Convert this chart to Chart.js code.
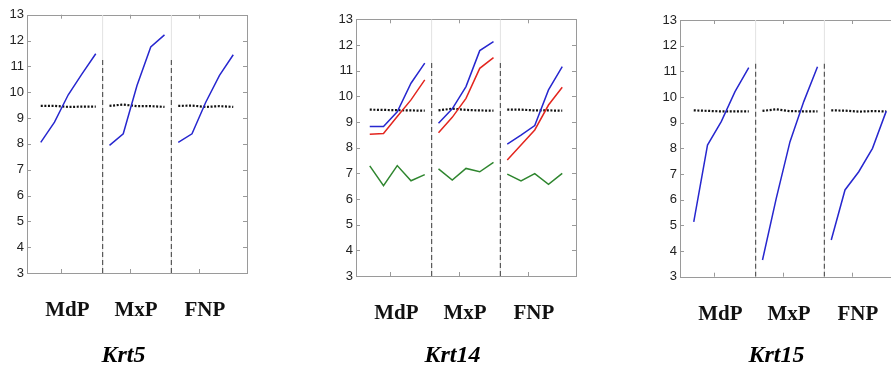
<!DOCTYPE html>
<html>
<head>
<meta charset="utf-8">
<script src="https://cdn.jsdelivr.net/npm/chart.js@4.4.1/dist/chart.umd.min.js"></script>
<style>
  html, body { margin: 0; padding: 0; background: #fff; width: 891px; height: 368px; overflow: hidden; position: relative; }
  .panel { position: absolute; top: 0; }
</style>
</head>
<body>
<canvas id="krt5" class="panel" width="300" height="368" style="left:0px"></canvas>
<canvas id="krt14" class="panel" width="300" height="368" style="left:329px"></canvas>
<canvas id="krt15" class="panel" width="300" height="368" style="left:653px"></canvas>
<script>
// Groups on the x axis, 5 stages in each
const groups = ['MdP', 'MxP', 'FNP'];
const stages = [1, 2, 3, 4, 5];
const yMin = 3;
const yMax = 13;
const dividerTop = 11.35;

// Expression values, MdP stages 1-5, then MxP, then FNP
const krt5Blue  = [8.06, 8.84, 9.90, 10.71, 11.49,   7.94, 8.39, 10.26, 11.75, 12.22,   8.06, 8.39, 9.61, 10.65, 11.45];
const krt5Ref   = [9.47, 9.47, 9.43, 9.44, 9.44,     9.47, 9.52, 9.46, 9.46, 9.43,      9.47, 9.48, 9.43, 9.46, 9.43];

const krt14Blue  = [8.82, 8.82, 9.40, 10.51, 11.29,  8.95, 9.51, 10.38, 11.78, 12.13,   8.14, 8.49, 8.86, 10.25, 11.16];
const krt14Red   = [8.52, 8.55, 9.21, 9.86, 10.64,   8.58, 9.18, 9.92, 11.09, 11.51,    7.52, 8.10, 8.69, 9.66, 10.35];
const krt14Green = [7.29, 6.52, 7.30, 6.71, 6.95,    7.17, 6.74, 7.19, 7.06, 7.43,      6.97, 6.70, 6.99, 6.57, 7.00];
const krt14Ref   = [9.48, 9.47, 9.46, 9.45, 9.44,    9.45, 9.52, 9.47, 9.45, 9.44,      9.48, 9.48, 9.45, 9.45, 9.44];

const krt15Blue = [5.14, 8.13, 9.04, 10.21, 11.14,   3.65, 6.05, 8.26, 9.82, 11.18,     4.43, 6.38, 7.09, 8.00, 9.45];
const krt15Ref  = [9.48, 9.46, 9.44, 9.44, 9.44,     9.46, 9.52, 9.45, 9.44, 9.44,      9.48, 9.47, 9.43, 9.45, 9.44];

const BLUE = '#2727cf';
const RED = '#e3261f';
const GREEN = '#2f862f';

// turn a flat list into {x,y} points, with a gap between groups
function toPoints(values) {
    const pts = [];
    groups.forEach((g, gi) => {
        stages.forEach((s, si) => {
            pts.push({ x: gi + 1 + (s - 2.5) * 0.2, y: values[gi * stages.length + si] });
        });
        pts.push({ x: gi + 1.55, y: null });
    });
    return pts;
}

function seriesLine(values, color) {
    return { data: toPoints(values), borderColor: color, borderWidth: 1.5, pointRadius: 0, tension: 0, spanGaps: false };
}

function refLine(values) {
    return { data: toPoints(values), borderColor: '#111', borderWidth: 2.2, borderDash: [2, 1.6], pointRadius: 0, tension: 0, spanGaps: false };
}

// group separators: faint full-height line with a dashed one over it
function dividerLines() {
    const faint = [], dashed = [];
    [1.6, 2.6].forEach(x => {
        faint.push({ x: x, y: yMin }, { x: x, y: yMax }, { x: x, y: null });
        dashed.push({ x: x, y: yMin }, { x: x, y: dividerTop }, { x: x, y: null });
    });
    return [
        { data: dashed, borderColor: '#5a5a5a', borderWidth: 1.2, borderDash: [5, 3], pointRadius: 0, spanGaps: false },
        { data: faint, borderColor: '#e2e2e2', borderWidth: 1, pointRadius: 0, spanGaps: false }
    ];
}

// box round the plot with small inward ticks
const framePlugin = {
    id: 'frame',
    beforeDatasetsDraw(chart) {
        const { ctx, chartArea: a, scales: { x, y } } = chart;
        ctx.save();
        ctx.strokeStyle = '#9a9a9a';
        ctx.lineWidth = 1;
        ctx.strokeRect(Math.round(a.left) + 0.5, Math.round(a.top) + 0.5, Math.round(a.width), Math.round(a.height));
        ctx.beginPath();
        for (let v = yMin; v <= yMax; v++) {
            const py = Math.round(y.getPixelForValue(v)) + 0.5;
            ctx.moveTo(a.left, py); ctx.lineTo(a.left + 4, py);
            ctx.moveTo(a.right, py); ctx.lineTo(a.right - 4, py);
        }
        groups.forEach((g, i) => {
            const px = Math.round(x.getPixelForValue(i + 1)) + 0.5;
            ctx.moveTo(px, a.top); ctx.lineTo(px, a.top + 4);
            ctx.moveTo(px, a.bottom); ctx.lineTo(px, a.bottom - 4);
        });
        ctx.stroke();
        ctx.restore();
    }
};

function makePanel(id, title, top, bottom, datasets) {
    return new Chart(document.getElementById(id), {
        type: 'line',
        // first dataset is drawn on top, so the separators go last
        data: { datasets: datasets.concat(dividerLines()) },
        plugins: [framePlugin],
        options: {
            responsive: false,
            animation: false,
            devicePixelRatio: 1,
            layout: { padding: { top: top, right: 53, bottom: 0, left: 0 } },
            plugins: {
                legend: { display: false },
                tooltip: { enabled: false },
                title: {
                    display: true,
                    text: title,
                    position: 'bottom',
                    color: '#000',
                    font: { family: '"Liberation Serif", "Times New Roman", serif', size: 24, weight: 'bold', style: 'italic', lineHeight: 1.0 },
                    padding: { top: 0, bottom: 0 }
                }
            },
            scales: {
                x: {
                    type: 'linear',
                    min: 0.5,
                    max: 3.7,
                    grid: { display: false },
                    border: { display: false },
                    afterBuildTicks: scale => { scale.ticks = groups.map((g, i) => ({ value: i + 1 })); },
                    afterFit: scale => { scale.height = 344 - bottom; },
                    ticks: {
                        callback: v => groups[v - 1],
                        autoSkip: false,
                        maxRotation: 0,
                        padding: 17,
                        labelOffset: 6,
                        color: '#111',
                        font: { family: '"Liberation Serif", "Times New Roman", serif', size: 21, weight: 'bold' }
                    }
                },
                y: {
                    min: yMin,
                    max: yMax,
                    grid: { display: false, drawTicks: false },
                    border: { display: false },
                    afterFit: scale => { scale.width = 27; },
                    ticks: {
                        stepSize: 1,
                        padding: 3,
                        color: '#222',
                        font: { family: '"Liberation Sans", Arial, sans-serif', size: 13 }
                    }
                }
            }
        }
    });
}

makePanel('krt5', 'Krt5', 14.7, 273, [seriesLine(krt5Blue, BLUE), refLine(krt5Ref)]);
makePanel('krt14', 'Krt14', 19.3, 276, [
    seriesLine(krt14Blue, BLUE),
    seriesLine(krt14Red, RED),
    seriesLine(krt14Green, GREEN),
    refLine(krt14Ref)
]);
makePanel('krt15', 'Krt15', 20, 276.7, [seriesLine(krt15Blue, BLUE), refLine(krt15Ref)]);
</script>
</body>
</html>
